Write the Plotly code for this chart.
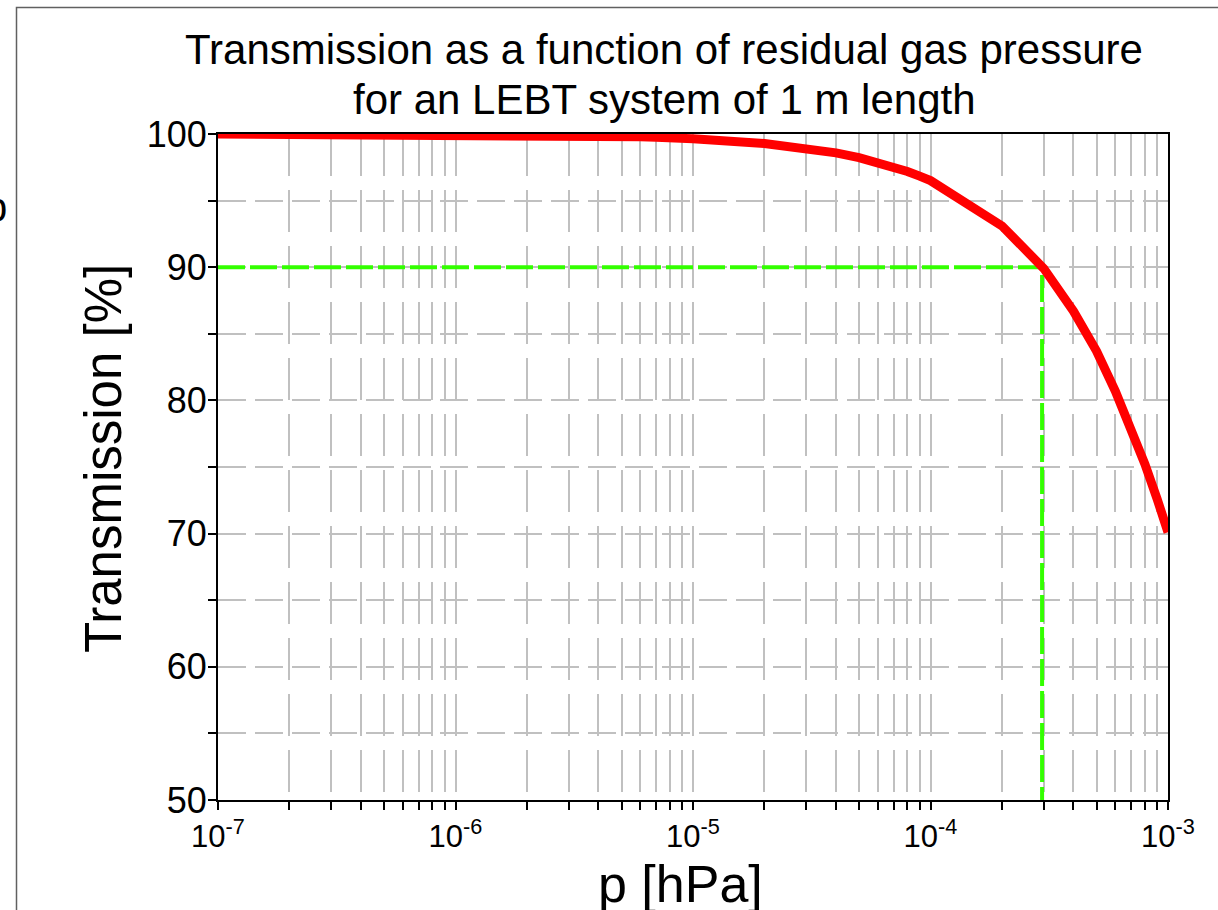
import plotly.graph_objects as go

# ---- data ----
pressure_hpa = [1e-7, 2e-7, 5e-7, 1e-6, 2e-6, 3e-6, 4e-6, 5e-6, 6e-6, 7e-6, 8e-6, 9e-6,
                1e-5, 2e-5, 3e-5, 4e-5, 5e-5, 6e-5, 7e-5, 8e-5, 9e-5,
                1e-4, 2e-4, 3e-4, 4e-4, 5e-4, 6e-4, 7e-4, 8e-4, 9e-4, 1e-3]
transmission_pct = [100.0, 99.99, 99.98, 99.96, 99.93, 99.89, 99.86, 99.82, 99.79, 99.75, 99.72, 99.68,
                    99.64, 99.29, 98.94, 98.58, 98.23, 97.88, 97.53, 97.19, 96.84,
                    96.5, 93.1, 89.9, 86.7, 83.7, 80.7, 77.9, 75.2, 72.6, 70.1]

marker_p = [1e-7, 2.95e-4, 2.95e-4]
marker_t = [90, 90, 50]

decade_exponents = [-7, -6, -5, -4, -3]
y_tick_values = [50, 55, 60, 65, 70, 75, 80, 85, 90, 95, 100]
y_tick_labels = ["50", "", "60", "", "70", "", "80", "", "90", "", "100"]

title_line1 = "Transmission as a function of residual gas pressure"
title_line2 = "for an LEBT system of 1 m length"
x_title = "p [hPa]"
y_title = "Transmission [%]"

# ---- tick positions (all log minors + decades) ----
x_tick_values, x_tick_labels = [], []
for e in decade_exponents[:-1]:
    for m in range(1, 10):
        x_tick_values.append(m * 10.0 ** e)
        x_tick_labels.append(f"10<sup>{e}</sup>" if m == 1 else "")
x_tick_values.append(10.0 ** decade_exponents[-1])
x_tick_labels.append(f"10<sup>{decade_exponents[-1]}</sup>")

FONT = "Liberation Sans, Arial, sans-serif"
W, H = 1218, 910
L, R, T, B = 218, 50, 134, 110
PW, PH = W - L - R, H - T - B


def px_x(px):
    return (px - L) / PW


def px_y(py):
    return (H - B - py) / PH


fig = go.Figure()
fig.add_trace(go.Scatter(x=marker_p, y=marker_t, mode="lines",
                         line=dict(color="#33ff00", width=4, dash="27px,5px"),
                         showlegend=False, hoverinfo="skip"))
fig.add_trace(go.Scatter(x=pressure_hpa, y=transmission_pct, mode="lines",
                         line=dict(color="#ff0000", width=9),
                         showlegend=False))

yaxis_cfg = dict(range=[50, 100],
                 tickmode="array", tickvals=y_tick_values, ticktext=y_tick_labels,
                 ticks="outside", ticklen=8, tickwidth=2, tickcolor="black",
                 showline=True, linecolor="black", linewidth=2, mirror=True,
                 showgrid=True, gridcolor="#c0c0c0", gridwidth=2, griddash="28px,9px",
                 tickfont=dict(size=36, family=FONT, color="black"),
                 zeroline=False)

fig.update_layout(
    width=W, height=H,
    margin=dict(l=L, r=R, t=T, b=B),
    paper_bgcolor="white", plot_bgcolor="white",
    font=dict(family=FONT, color="black"),
    xaxis=dict(type="log", range=[-7, -3],
               tickmode="array", tickvals=x_tick_values, ticktext=x_tick_labels,
               ticks="outside", ticklen=8, tickwidth=2, tickcolor="black",
               showline=True, linecolor="black", linewidth=2, mirror=True,
               showgrid=True, gridcolor="#c0c0c0", gridwidth=2, griddash="42px,14px",
               tickfont=dict(size=31, family=FONT, color="black"),
               zeroline=False),
    yaxis=yaxis_cfg,
    shapes=[dict(type="rect", xref="paper", yref="paper",
                 x0=px_x(16.5), x1=px_x(W + 50), y0=px_y(7.5), y1=px_y(H + 50),
                 line=dict(color="#606060", width=1.5), fillcolor="rgba(0,0,0,0)",
                 layer="below")],
    annotations=[
        dict(text=title_line1, xref="paper", yref="paper", x=px_x(664), y=px_y(50),
             xanchor="center", yanchor="middle", showarrow=False,
             font=dict(size=42, family=FONT, color="black")),
        dict(text=title_line2, xref="paper", yref="paper", x=px_x(664), y=px_y(99),
             xanchor="center", yanchor="middle", showarrow=False,
             font=dict(size=42, family=FONT, color="black")),
        dict(text=x_title, xref="paper", yref="paper", x=px_x(680), y=px_y(884),
             xanchor="center", yanchor="middle", showarrow=False,
             font=dict(size=52, family=FONT, color="black")),
        dict(text=y_title, xref="paper", yref="paper", x=px_x(103), y=px_y(459),
             xanchor="center", yanchor="middle", showarrow=False, textangle=-90,
             font=dict(size=51, family=FONT, color="black")),
        dict(text="b", xref="paper", yref="paper", x=px_x(-17), y=px_y(207),
             xanchor="left", yanchor="middle", showarrow=False,
             font=dict(size=40, family=FONT, color="black")),
    ],
)

try:
    fig.update_yaxes(ticklabelstandoff=-6)
except Exception:
    pass

fig.write_html("out.html", config={"displayModeBar": False},
               post_script="document.body.style.margin='0px';")
